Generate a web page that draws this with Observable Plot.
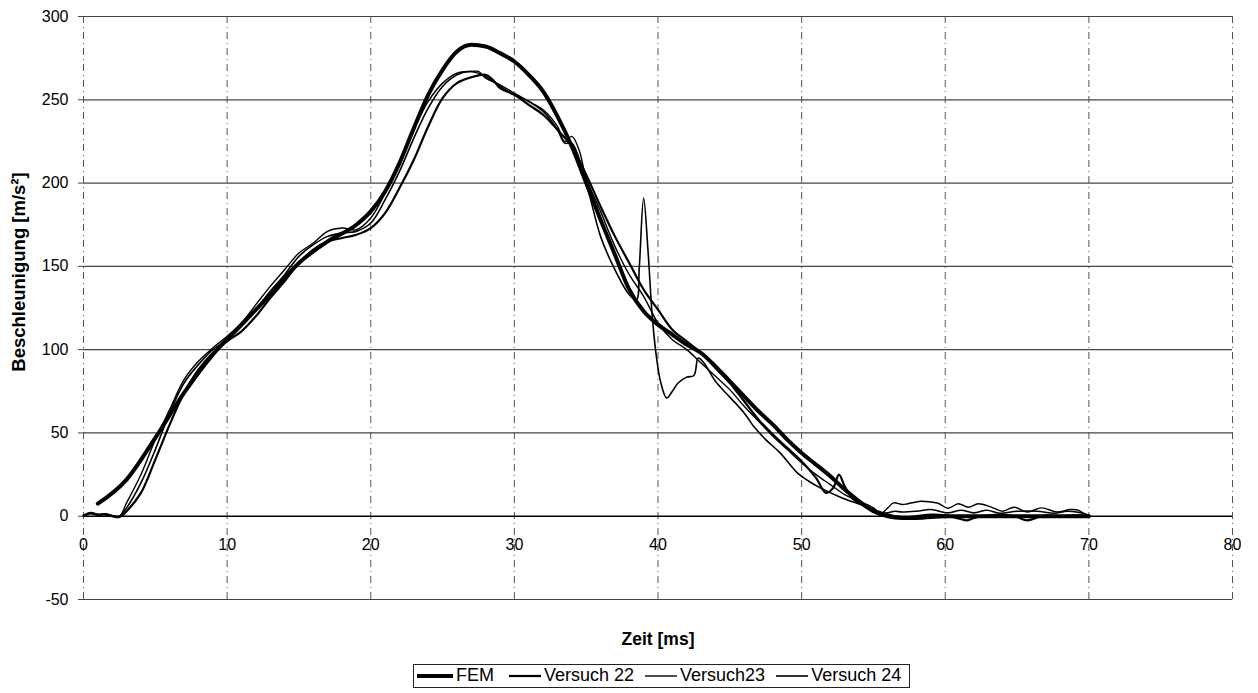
<!DOCTYPE html>
<html>
<head>
<meta charset="utf-8">
<script src="https://cdn.jsdelivr.net/npm/d3@7"></script>
<script src="https://cdn.jsdelivr.net/npm/@observablehq/plot@0.6"></script>
<style>
  html, body { margin: 0; padding: 0; background: #fff; }
  body { font-family: "Liberation Sans", Arial, sans-serif; width: 1258px; }
  #legend { margin-left: 413px; margin-top: 9px; display: inline-flex; align-items: center;
    border: 1px solid #222; padding: 0px 8px 1px 3px; font-size: 18px; color: #000; }
  #legend .item { display: inline-flex; align-items: center; margin-right: 11px; }
  #legend .item:first-child { margin-right: 15px; }
  #legend .item:last-child { margin-right: 0; }
  #legend svg { margin-right: 3px; }
</style>
</head>
<body>
<div id="chart"></div>
<div id="legend"></div>
<script>
// ---- data ----
const seriesNames = ["FEM", "Versuch 22", "Versuch23", "Versuch 24"];
const xTicks = [0, 10, 20, 30, 40, 50, 60, 70, 80];
const yTicks = [-50, 0, 50, 100, 150, 200, 250, 300];

const femT = [1, 3, 5, 7, 9, 11, 13, 15, 17, 19, 20, 21, 22, 23, 24, 25, 26, 27, 28, 29, 30, 31, 32, 33, 34, 35, 36, 37, 38, 39, 40, 41, 42, 43, 44, 45, 46, 47, 48, 49, 50, 51, 52, 53, 54, 55, 56, 57, 58, 60, 65, 70];
const femA = [7.5, 22, 47, 74, 97, 115, 133, 152, 165, 175, 183, 195, 212, 233, 253, 268, 279, 283, 282, 278, 273, 265, 255, 240, 222, 200, 178, 157, 136, 123, 115, 109, 103, 98, 90, 81, 72, 63, 55, 46, 38, 31, 24, 16, 9, 3, 0, -1, -1, 0, 0, 0];

const v22T = [0, 0.5, 1, 1.5, 2, 2.5, 3, 4, 5, 6, 7, 8, 9, 10, 11, 12, 13, 14, 15, 16, 17, 18, 19, 20, 21, 22, 23, 24, 25, 26, 27, 28, 28.5, 29, 30, 31, 32, 33, 34, 35, 36, 37, 38, 39, 40, 41, 42, 43, 44, 45, 46, 47, 48, 49, 50, 51, 51.7, 52.2, 52.6, 53, 53.5, 54, 55, 56, 57, 58, 59, 60, 61, 61.5, 62, 63, 64, 65, 65.7, 66.5, 67, 68, 69, 70];
const v22A = [0.5, 2, 1, 1, 0, -0.5, 3, 14, 34, 55, 74, 88, 98, 105, 111, 120, 131, 141, 152, 160, 165, 167, 169, 173, 182, 197, 214, 234, 251, 260, 263.5, 265, 262, 257, 253, 247, 241, 232, 222, 205, 186, 168, 152, 136, 124, 112, 105, 98, 89, 80, 69, 58, 49, 41, 33, 23, 14, 17, 25, 18, 11, 8, 4, 1, -0.5, 0, 1, 0.5, -1.5, -2.5, -1, 0.5, 1, -0.5, -2.5, -0.5, 0.5, 0, 0.5, 0];

const v23T = [0, 0.5, 1, 1.5, 2, 2.5, 3, 4, 5, 6, 7, 8, 9, 10, 11, 12, 13, 14, 15, 16, 17, 18, 19, 20, 21, 22, 23, 24, 25, 26, 27, 27.5, 28, 29, 30, 31, 32, 33, 33.5, 34, 34.5, 35, 36, 37, 38, 39, 40, 41, 42, 43, 44, 45, 46, 47, 48, 49, 50, 51, 52, 53, 54, 55, 55.5, 56, 56.4, 57, 57.4, 58.3, 59, 59.5, 60.2, 60.9, 61.6, 62.3, 63.2, 64, 64.8, 65.7, 66.7, 67.8, 68.7, 69.3, 69.7];
const v23A = [0, 2, 1, 1.5, 0.5, 0, 8, 25, 46, 64, 82, 93, 101, 108, 116, 127, 138, 148, 158, 164, 171, 173, 172, 179, 194, 212, 232, 249, 260, 266, 267, 267, 263, 259, 254, 249, 244, 234, 225, 228, 220, 203, 183, 162, 145, 132, 116, 106, 100, 92, 84, 76, 66, 57, 48, 40, 32, 25, 19, 13, 9, 5, 1.5, 5, 8, 7, 7.5, 9, 8.5, 7.8, 4.8, 7.5, 5.4, 7.5, 5.5, 3, 5.4, 2.5, 5, 2.5, 4, 3.5, 1];

const v24T = [0, 0.5, 1, 1.5, 2, 2.5, 3, 4, 5, 6, 7, 8, 9, 10, 11, 12, 13, 14, 15, 16, 17, 18, 19, 20, 21, 22, 23, 24, 25, 26, 27, 28, 29, 30, 31, 32, 33, 33.5, 34, 35, 36, 37, 38, 38.5, 38.7, 39, 39.3, 39.6, 39.9, 40.2, 40.6, 41, 41.4, 42, 42.5, 42.8, 43.2, 44, 45, 46, 46.7, 47.5, 48.5, 49.7, 50.5, 51.3, 52.7, 54.6, 55.5, 56, 56.5, 57, 58, 59, 60.2, 61.1, 62, 62.9, 63.8, 65, 66.4, 67.6, 68.5, 69.5, 70];
const v24A = [0, 1.5, 0.5, 1.5, 0.3, 0, 5, 20, 40, 62, 80, 91, 100, 106, 114, 124, 135, 145, 156, 163, 168, 170, 171, 176, 190, 207, 227, 245, 258, 265, 267, 264, 258, 253, 249, 243, 232, 224, 224, 200, 168, 148, 133, 130, 150, 191, 160, 120, 95, 80, 71, 75, 80, 83.5, 84.5, 95, 92, 81, 71.5, 62, 53.5, 46, 38, 26, 21, 17, 11.4, 5.4, 1.8, 2, 3, 2.5, 3, 4, 2, 3.6, 2, 3.6, 1.8, 3, 3, 1.8, 3, 2, 0.5];

const widths = [4, 2.2, 1.4, 1.6];
const legendLen = [36, 32, 32, 32];
const allT = [femT, v22T, v23T, v24T];
const allA = [femA, v22A, v23A, v24A];
const rows = seriesNames.flatMap((name, i) =>
  allT[i].map((t, j) => ({series: name, t, a: allA[i][j]})));

const font = "Liberation Sans, Arial, sans-serif";

const chart = Plot.plot({
  width: 1258,
  height: 655,
  marginLeft: 83,
  marginRight: 26,
  marginTop: 16,
  marginBottom: 56,
  style: {fontFamily: font, fontSize: "16px", color: "#000", background: "#fff"},
  x: {domain: [0, 80], axis: null},
  y: {domain: [-50, 300], axis: null},
  marks: [
    // horizontal gridlines
    Plot.ruleY(yTicks.filter(d => d !== 0), {stroke: "#444", strokeWidth: 1.2}),
    // vertical dash-dot gridlines
    Plot.ruleX(xTicks, {stroke: "#555", strokeWidth: 1, strokeDasharray: "7,4,1,4"}),
    Plot.ruleY([0], {stroke: "#000", strokeWidth: 1.4}),
    Plot.axisY(yTicks, {tickSize: 5, tickPadding: 10, fontSize: 16, label: null, stroke: "#444", tickFormat: d => String(d)}),
    Plot.text(xTicks, {x: d => d, y: 0, dy: 29, fontSize: 16, text: d => String(d), lineAnchor: "middle"}),
    Plot.text(["Beschleunigung [m/s²]"], {frameAnchor: "left", dx: -64, dy: -36, rotate: -90, textAnchor: "middle", lineAnchor: "middle", fontWeight: "bold", fontSize: 18.5}),
    Plot.text(["Zeit [ms]"], {frameAnchor: "bottom", dy: 40, lineAnchor: "middle", fontWeight: "bold", fontSize: 17.5}),
    ...seriesNames.map((name, i) =>
      Plot.line(rows.filter(r => r.series === name), {
        x: "t", y: "a", stroke: "#000", strokeWidth: widths[i],
        curve: i === 0 ? "monotone-x" : "catmull-rom", strokeLinejoin: "round"
      }))
  ]
});
document.getElementById("chart").append(chart);

// legend
const lg = document.getElementById("legend");
seriesNames.forEach((name, i) => {
  const it = document.createElement("span");
  it.className = "item";
  it.innerHTML = `<svg width="${legendLen[i]}" height="10"><line x1="0" x2="${legendLen[i]}" y1="5" y2="5" stroke="#000" stroke-width="${widths[i]}"/></svg>${name}`;
  lg.append(it);
});
</script>
</body>
</html>
